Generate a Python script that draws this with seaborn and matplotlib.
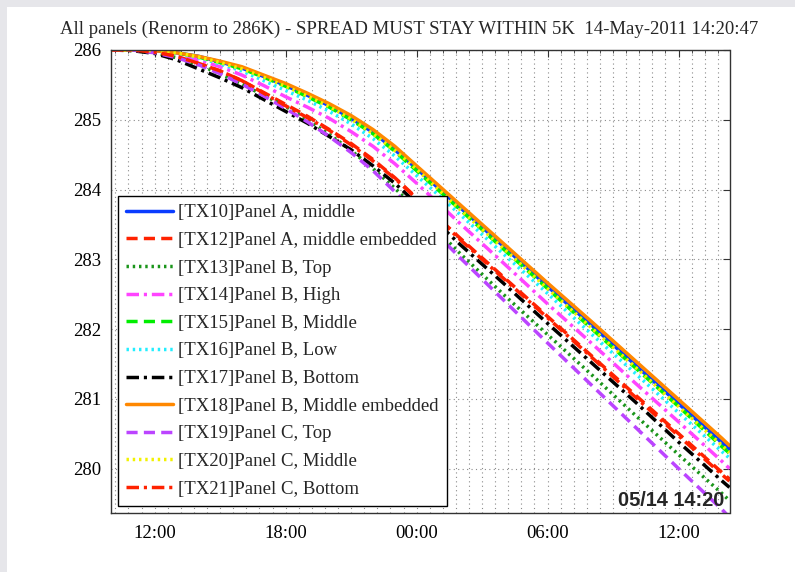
import numpy as np
import pandas as pd
import matplotlib
matplotlib.use("Agg")
import matplotlib.pyplot as plt
import matplotlib.dates as mdates
from matplotlib.ticker import MultipleLocator
from matplotlib.patches import Rectangle
import seaborn as sns

# ---------------- data ----------------
times = ["2011-05-13 10:00", "2011-05-13 11:00", "2011-05-13 12:00", "2011-05-13 13:00",
         "2011-05-13 14:00", "2011-05-13 15:00", "2011-05-13 16:00", "2011-05-13 17:00",
         "2011-05-13 18:00", "2011-05-13 19:00", "2011-05-13 20:00", "2011-05-13 21:00",
         "2011-05-13 22:00", "2011-05-13 23:00", "2011-05-14 00:00", "2011-05-14 02:00",
         "2011-05-14 04:00", "2011-05-14 06:00", "2011-05-14 08:00", "2011-05-14 10:00",
         "2011-05-14 12:00", "2011-05-14 14:00", "2011-05-14 14:20"]

labels = ["[TX10]Panel A, middle", "[TX12]Panel A, middle embedded", "[TX13]Panel B, Top",
          "[TX14]Panel B, High", "[TX15]Panel B, Middle", "[TX16]Panel B, Low",
          "[TX17]Panel B, Bottom", "[TX18]Panel B, Middle embedded", "[TX19]Panel C, Top",
          "[TX20]Panel C, Middle", "[TX21]Panel C, Bottom"]

tx10 = [286.00, 286.00, 285.99, 285.96, 285.91, 285.83, 285.74, 285.62, 285.49, 285.35, 285.20, 285.02,
        284.82, 284.57, 284.30, 283.74, 283.18, 282.61, 282.06, 281.49, 280.93, 280.37, 280.28]
tx12 = [286.00, 286.00, 285.97, 285.91, 285.81, 285.70, 285.56, 285.39, 285.22, 285.05, 284.86, 284.66,
        284.43, 284.17, 283.88, 283.30, 282.74, 282.18, 281.62, 281.06, 280.50, 279.94, 279.85]
tx13 = [286.00, 286.00, 285.96, 285.89, 285.79, 285.66, 285.51, 285.35, 285.19, 285.00, 284.79, 284.56,
        284.30, 284.02, 283.71, 283.08, 282.49, 281.92, 281.35, 280.77, 280.20, 279.64, 279.54]
tx14 = [286.00, 286.00, 285.98, 285.94, 285.86, 285.76, 285.64, 285.49, 285.33, 285.18, 285.02, 284.83,
        284.62, 284.37, 284.09, 283.51, 282.94, 282.36, 281.80, 281.23, 280.67, 280.10, 280.00]
tx15 = [286.00, 286.00, 285.99, 285.96, 285.90, 285.82, 285.73, 285.61, 285.48, 285.33, 285.18, 285.00,
        284.80, 284.55, 284.27, 283.71, 283.14, 282.58, 282.01, 281.45, 280.89, 280.31, 280.22]
tx16 = [286.00, 286.00, 285.99, 285.95, 285.89, 285.80, 285.70, 285.56, 285.42, 285.28, 285.12, 284.94,
        284.73, 284.48, 284.20, 283.64, 283.07, 282.51, 281.93, 281.37, 280.80, 280.24, 280.15]
tx17 = [286.00, 285.99, 285.95, 285.86, 285.73, 285.60, 285.46, 285.29, 285.12, 284.95, 284.76, 284.57,
        284.34, 284.09, 283.80, 283.21, 282.65, 282.08, 281.52, 280.96, 280.38, 279.82, 279.73]
tx18 = [286.00, 286.00, 285.99, 285.96, 285.91, 285.84, 285.76, 285.64, 285.52, 285.38, 285.23, 285.06,
        284.86, 284.62, 284.34, 283.78, 283.22, 282.66, 282.11, 281.55, 280.99, 280.43, 280.33]
tx19 = [286.00, 286.00, 285.96, 285.89, 285.79, 285.66, 285.51, 285.34, 285.16, 284.97, 284.76, 284.53,
        284.27, 283.97, 283.65, 283.02, 282.41, 281.80, 281.20, 280.60, 280.00, 279.41, 279.30]
tx20 = [286.00, 286.00, 285.99, 285.96, 285.90, 285.82, 285.73, 285.61, 285.48, 285.34, 285.19, 285.01,
        284.80, 284.56, 284.29, 283.71, 283.15, 282.58, 282.02, 281.46, 280.89, 280.33, 280.23]
tx21 = [286.00, 286.00, 285.97, 285.91, 285.81, 285.70, 285.56, 285.38, 285.20, 285.03, 284.85, 284.64,
        284.41, 284.16, 283.87, 283.28, 282.72, 282.16, 281.60, 281.03, 280.47, 279.91, 279.82]

series = [tx10, tx12, tx13, tx14, tx15, tx16, tx17, tx18, tx19, tx20, tx21]

title_text = "All panels (Renorm to 286K) - SPREAD MUST STAY WITHIN 5K  14-May-2011 14:20:47"
stamp_text = "05/14 14:20"

# ---------------- styles ----------------
colors = ["#0a3cff", "#ff2200", "#1a951a", "#ff44ff", "#00ee00", "#22eeff",
          "#000000", "#ff8800", "#bb44ff", "#f2f200", "#ff2200"]
styles = ["-", (0, (3.2, 1.8)), (0, (0.7, 1.1)), (0, (3.6, 1.4, 0.9, 1.4)), (0, (3.2, 1.8)),
          (0, (0.7, 1.1)), (0, (3.6, 1.4, 0.9, 1.4)), "-", (0, (3.2, 1.8)), (0, (0.7, 1.1)),
          (0, (3.6, 1.4, 0.9, 1.4))]

sns.set_theme(style="white")
plt.rcParams["font.family"] = ["Liberation Serif", "DejaVu Serif"]

t = pd.to_datetime(times)
df = pd.DataFrame({"time": np.tile(t, len(series)),
                   "temp": np.concatenate([np.array(s) for s in series]),
                   "sensor": np.repeat(labels, len(times))})

fig = plt.figure(figsize=(7.95, 5.72), dpi=100)
fig.patch.set_facecolor("white")
ax = fig.add_axes([111 / 795, 1 - 513 / 572, (729.5 - 111) / 795, (513 - 50) / 572])

for lab, col, ls in zip(labels, colors, styles):
    sub = df[df["sensor"] == lab]
    sns.lineplot(data=sub, x="time", y="temp", ax=ax, color=col, linestyle=ls,
                 linewidth=2.5, label=lab, sort=False)

ax.set_xlim(pd.Timestamp("2011-05-13 10:00"), pd.Timestamp("2011-05-14 14:20"))
ax.set_ylim(279.363, 286.0)
ax.set_xlabel("")
ax.set_ylabel("")

ax.xaxis.set_major_locator(mdates.HourLocator(byhour=[0, 6, 12, 18]))
ax.xaxis.set_major_formatter(mdates.DateFormatter("%H:%M"))
ax.xaxis.set_minor_locator(MultipleLocator(0.025))
ax.yaxis.set_major_locator(MultipleLocator(1))

ax.set_axisbelow(True)
ax.grid(which="both", axis="x", color="#8a8a8a", linestyle=(0, (1, 3)), linewidth=0.8)
ax.grid(which="major", axis="y", color="#8a8a8a", linestyle=(0, (1, 3)), linewidth=0.8)

ax.tick_params(which="both", direction="in", top=True, right=True, colors="#333333",
               labelcolor="black", labelsize=13.5)
ax.tick_params(which="major", length=5, width=0.8)
ax.tick_params(which="minor", length=2.5, width=0.6)
ax.tick_params(axis="x", which="major", pad=9)
ax.tick_params(axis="y", which="major", pad=7)
for sp in ax.spines.values():
    sp.set_visible(True)
    sp.set_color("#333333")
    sp.set_linewidth(1.0)

ax.set_title(title_text, fontsize=13.5, pad=11.5, x=0.482)

leg = ax.legend(loc="lower left", bbox_to_anchor=(0, 0), borderaxespad=0.37,
                handlelength=2.5, handletextpad=0.27, labelspacing=0.56, borderpad=0.45,
                fancybox=False, framealpha=1, edgecolor="black", fontsize=13.5)
leg.get_frame().set_linewidth(1.0)

ax.text(0.991, 0.028, stamp_text, transform=ax.transAxes, ha="right", va="center",
        fontsize=14.4, fontweight="bold", family=["Liberation Sans", "DejaVu Sans"])

fig.patches.append(Rectangle((0, 1 - 7 / 572), 1, 7 / 572, transform=fig.transFigure,
                             facecolor="#e6e6ea", edgecolor="none", zorder=0))
fig.patches.append(Rectangle((0, 0), 7 / 795, 1, transform=fig.transFigure,
                             facecolor="#e6e6ea", edgecolor="none", zorder=0))

fig.savefig("out.png", dpi=100)
